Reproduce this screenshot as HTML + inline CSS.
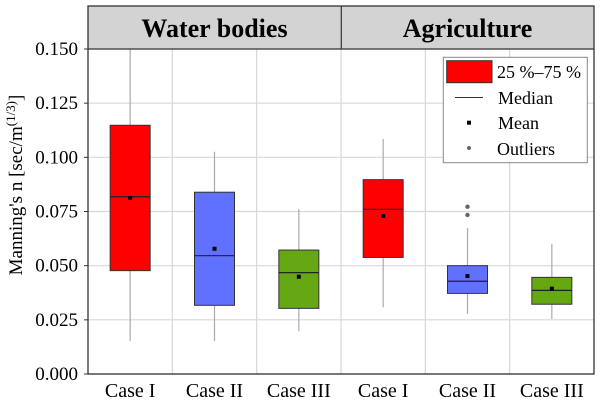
<!DOCTYPE html>
<html><head><meta charset="utf-8"><style>
html,body{margin:0;padding:0;background:#fff;}
svg{display:block;font-family:"Liberation Serif",serif;}
</style></head><body>
<svg id="chart" width="600" height="403" viewBox="0 0 600 403">
<rect x="88" y="6" width="506" height="43" fill="#d3d3d3"/>
<text x="214.5" y="37" text-anchor="middle" font-size="26" font-weight="bold">Water bodies</text>
<text x="467.5" y="37" text-anchor="middle" font-size="26" font-weight="bold">Agriculture</text>
<g id="grid"></g><g id="marks"></g><g id="axes"></g>
<rect x="88" y="6" width="506" height="368" fill="none" stroke="#333" stroke-width="1.3"/>
<line x1="341.3" y1="6" x2="341.3" y2="49" stroke="#333" stroke-width="1.2"/>
<line x1="88" y1="49" x2="594" y2="49" stroke="#333" stroke-width="1.2"/>
<text transform="translate(22,185) rotate(-90)" text-anchor="middle" font-size="19">Manning's n [sec/m<tspan dy="-7" font-size="13">(1/3)</tspan><tspan dy="7">]</tspan></text>
<g>
<rect x="443.3" y="57.3" width="144" height="105.4" fill="#fff" stroke="#888"/>
<rect x="446.7" y="60.7" width="45.3" height="22" fill="#f00" stroke="#333"/>
<text x="497" y="78" font-size="18">25 %–75 %</text>
<line x1="455" y1="97.5" x2="483" y2="97.5" stroke="#333"/>
<text x="498" y="104" font-size="18">Median</text>
<rect x="467" y="120.7" width="4" height="4" fill="#000"/>
<text x="498" y="129" font-size="18">Mean</text>
<circle cx="469" cy="148" r="2" fill="#666"/>
<text x="497" y="155" font-size="18">Outliers</text>
</g>
</svg>
<script>
const categories=["Case I","Case II","Case III","Case I","Case II","Case III"];
const whiskerLow=[0.0152,0.0152,0.0198,0.0308,0.0277,0.0254];
const q1=[0.0477,0.0317,0.0303,0.0538,0.0372,0.0322];
const medians=[0.0818,0.0546,0.0468,0.0760,0.0428,0.0386];
const means=[0.0812,0.0578,0.0449,0.0729,0.0452,0.0394];
const q3=[0.1148,0.0839,0.0572,0.0897,0.0500,0.0446];
const whiskerHigh=[0.150,0.1026,0.0760,0.1085,0.0674,0.0601];
const outliers=[[],[],[],[],[0.0772,0.0734],[]];
const colors=["#ff0000","#6070ff","#66a814","#ff0000","#6070ff","#66a814"];
const yTicks=[0,0.025,0.05,0.075,0.1,0.125,0.15];
const yTickLabels=["0.000","0.025","0.050","0.075","0.100","0.125","0.150"];
const NS="http://www.w3.org/2000/svg";
const L=88,R=594,T=49,B=374,ymax=0.15;
const bw=(R-L)/categories.length;
const y=v=>B-v/ymax*(B-T);
const x=i=>L+bw*(i+0.5);
function mk(tag,attrs,parent){const e=document.createElementNS(NS,tag);for(const k in attrs)e.setAttribute(k,attrs[k]);parent.appendChild(e);return e;}
const grid=document.getElementById('grid'),marks=document.getElementById('marks'),axes=document.getElementById('axes');
yTicks.forEach((t,i)=>{
 const g=mk('line',{x1:L,x2:R,y1:y(t),y2:y(t),stroke:'#d8d8d8','stroke-width':1.2},grid);
 
 
 const tk=mk('line',{x1:L-4,x2:L,y1:y(t),y2:y(t),stroke:'#333'},axes);
 
 
 const tx=mk('text',{x:L-10,y:y(t)+6,'text-anchor':'end','font-size':19},axes);
 tx.textContent=yTickLabels[i];
 
 
});
for(let i=1;i<categories.length;i++){
 const g=mk('line',{x1:L+bw*i,x2:L+bw*i,y1:T,y2:B,stroke:'#d8d8d8','stroke-width':1.2},grid);
 
 
}
const boxW=40;
categories.forEach((c,i)=>{
 const cx=x(i);
 const w=mk('line',{x1:cx,x2:cx,y1:y(whiskerLow[i]),y2:y(whiskerHigh[i]),stroke:'#aaa','stroke-width':1.2},marks);
 
 
 const b=mk('rect',{x:cx-boxW/2,y:y(q3[i]),width:boxW,height:y(q1[i])-y(q3[i]),fill:colors[i],stroke:'#333','stroke-width':1},marks);
 
 
 const m=mk('line',{x1:cx-boxW/2,x2:cx+boxW/2,y1:y(medians[i]),y2:y(medians[i]),stroke:'#222','stroke-width':1.2},marks);
 
 
 const mn=mk('rect',{x:cx-2,y:y(means[i])-2,width:4,height:4,fill:'#000'},marks);
 
 
 outliers[i].forEach(o=>{
  const p=mk('circle',{cx:cx,cy:y(o),r:2.2,fill:'#666'},marks);
  
  
 });
 const t=mk('text',{x:cx,y:397,'text-anchor':'middle','font-size':20},axes);
 t.textContent=c;
 
 
});
</script>
</body></html>
